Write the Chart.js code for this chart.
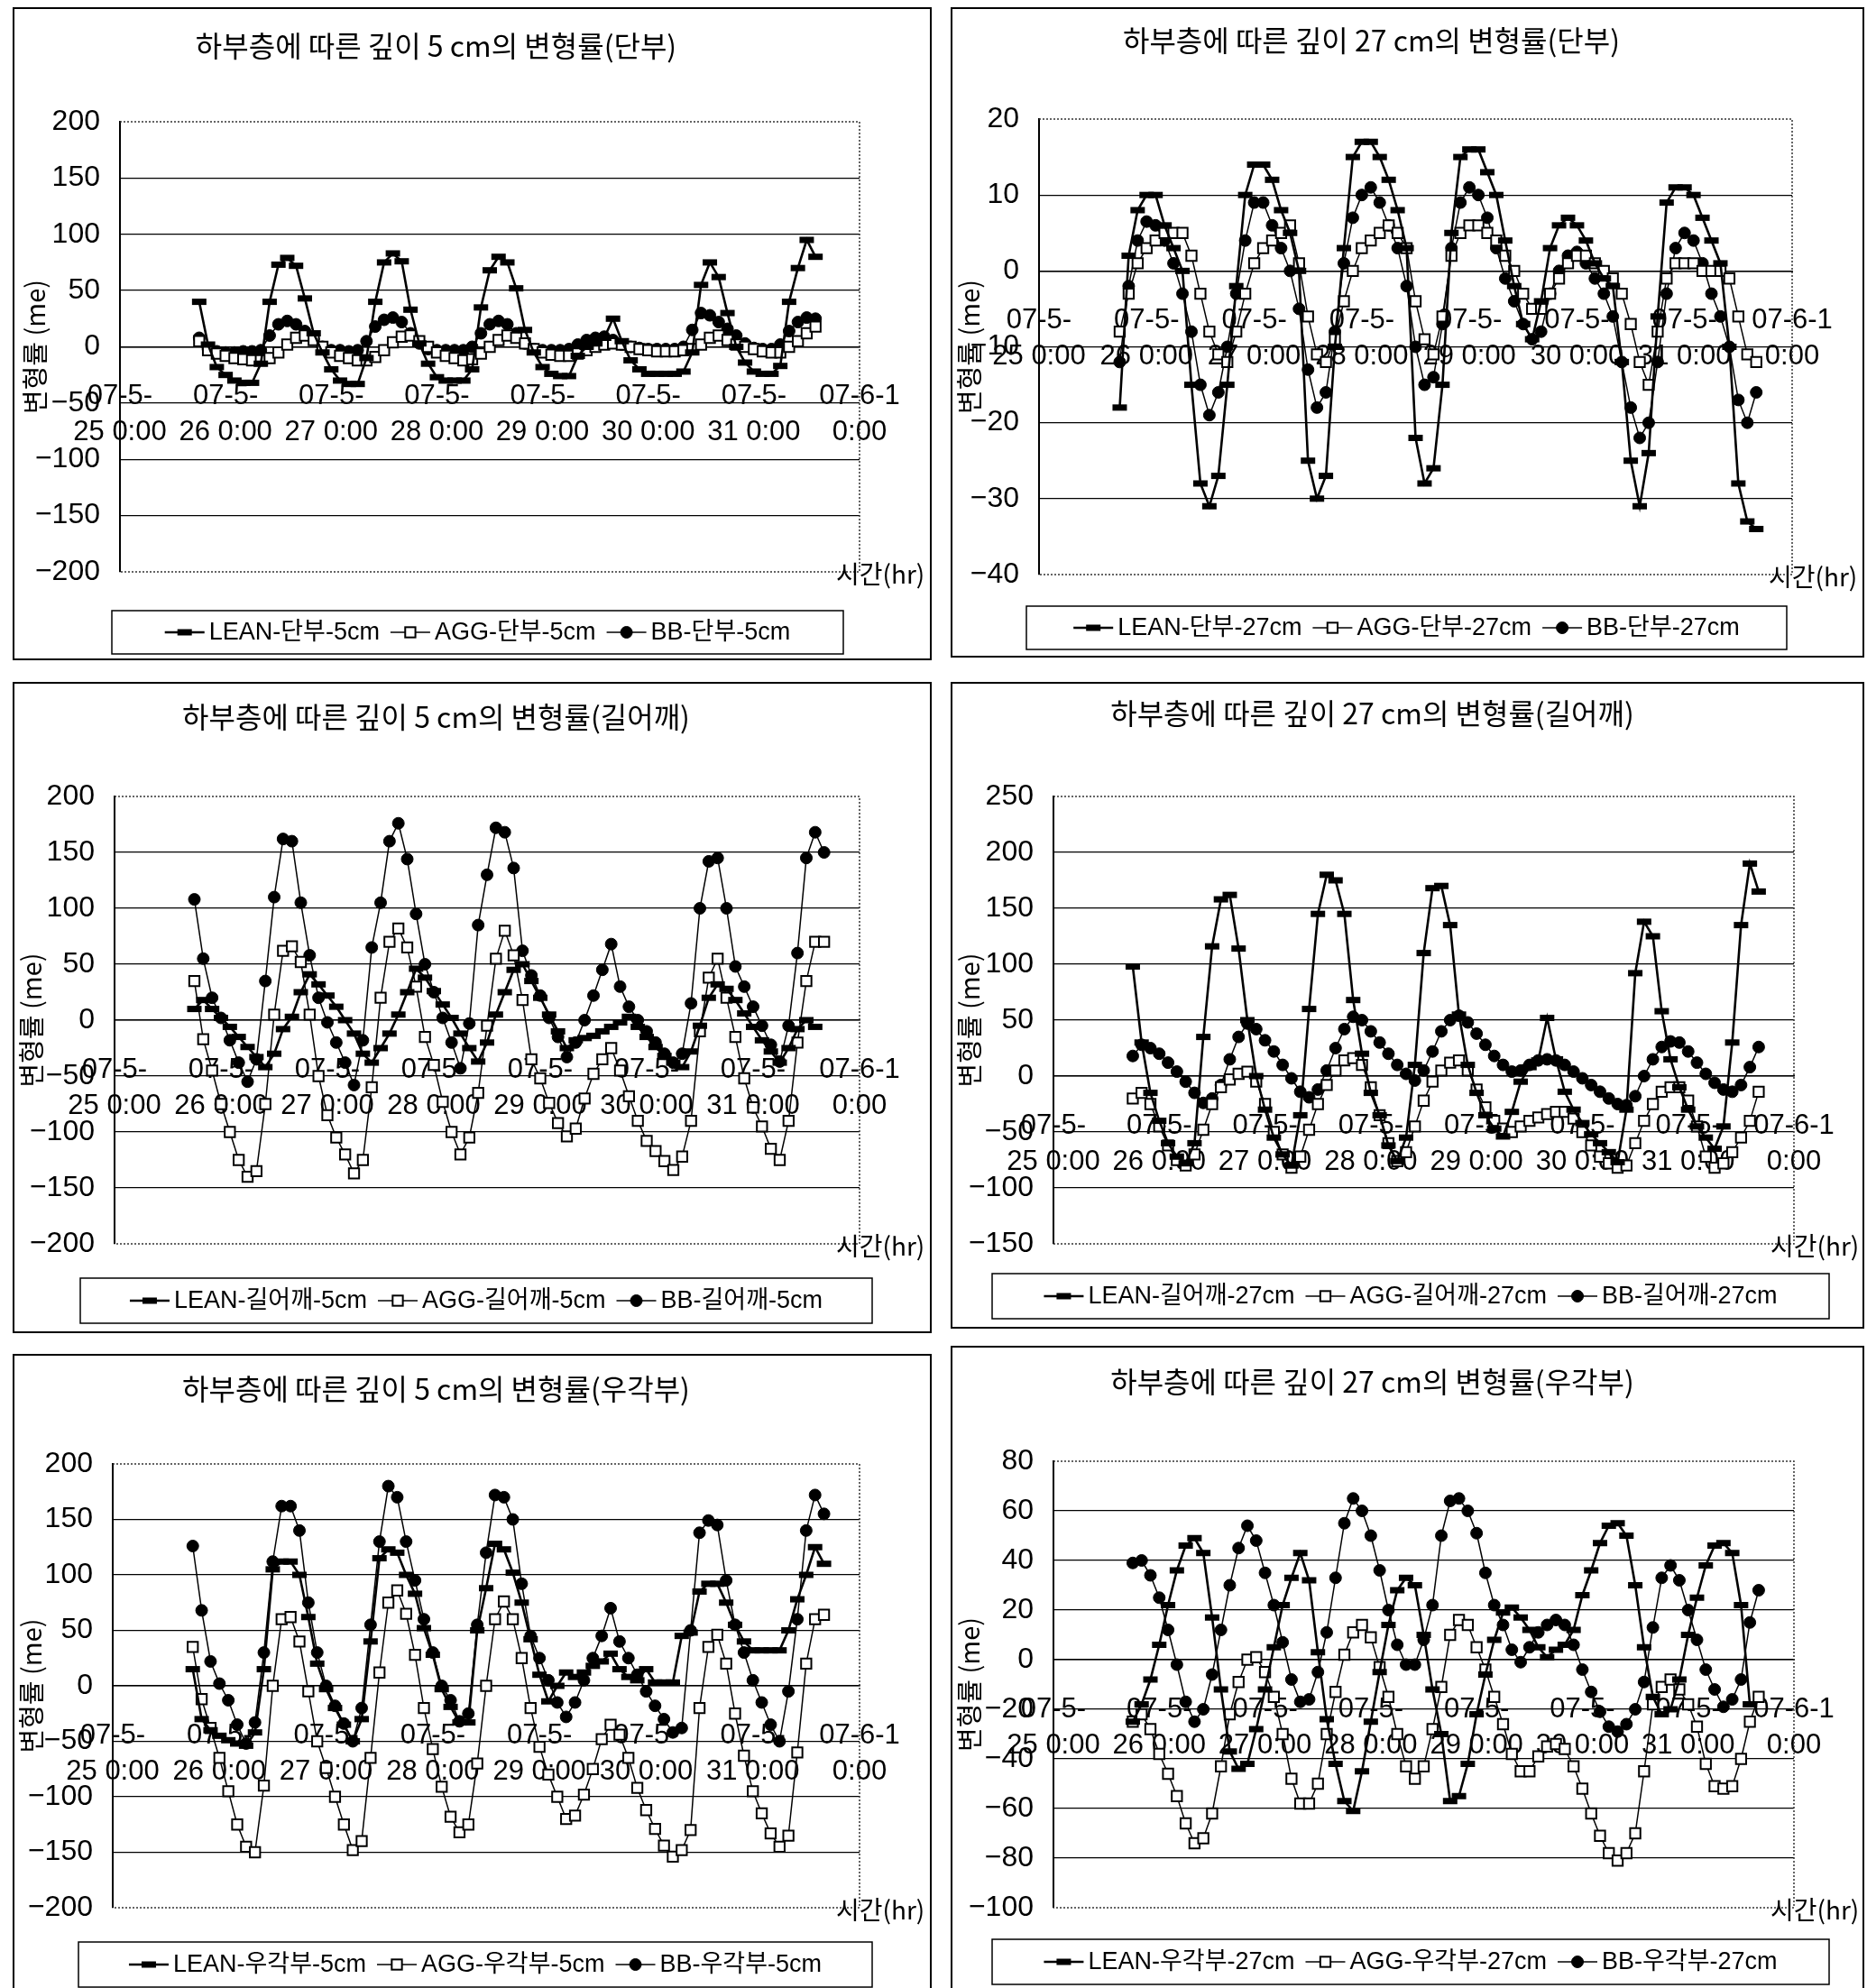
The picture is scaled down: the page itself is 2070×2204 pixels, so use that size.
<!DOCTYPE html>
<html>
<head>
<meta charset="utf-8">
<script src="https://cdn.jsdelivr.net/npm/chart.js@4.4.0/dist/chart.umd.min.js"></script>
<style>
  html, body { margin: 0; padding: 0; background: #fff; }
  body { width: 2070px; height: 2204px; position: relative; overflow: hidden; }
  .frame { position: absolute; border: 2px solid #000; box-sizing: border-box; pointer-events: none; }
  canvas { position: absolute; }
</style>
</head>
<body>
<script>
// time axis: hours since 07-5-25 0:00, one reading every 2 hours
const HOURS = [
  18, 20, 22, 24, 26, 28, 30, 32, 34, 36, 38, 40,
  42, 44, 46, 48, 50, 52, 54, 56, 58, 60, 62, 64,
  66, 68, 70, 72, 74, 76, 78, 80, 82, 84, 86, 88,
  90, 92, 94, 96, 98, 100, 102, 104, 106, 108, 110, 112,
  114, 116, 118, 120, 122, 124, 126, 128, 130, 132, 134, 136,
  138, 140, 142, 144, 146, 148, 150, 152, 154, 156, 158, 160
];
const DAY_TICKS = [0, 24, 48, 72, 96, 120, 144, 168];
const DAY_LABELS = [
  ['07-5-', '25 0:00'], ['07-5-', '26 0:00'], ['07-5-', '27 0:00'], ['07-5-', '28 0:00'],
  ['07-5-', '29 0:00'], ['07-5-', '30 0:00'], ['07-5-', '31 0:00'], ['07-6-1', '0:00']
];

// 깊이 5 cm, 단부
const lean5End = [
  40, 2, -18, -25, -30, -32, -32, -15, 40, 73, 79, 72,
  43, 12, -5, -20, -30, -33, -33, -10, 40, 75, 83, 76,
  33, 3, -15, -27, -30, -30, -30, -20, 35, 68, 80, 75,
  52, 15, -5, -18, -24, -26, -26, -8, 0, 3, 8, 25,
  5, -12, -20, -24, -24, -24, -24, -22, -5, 55, 75, 62,
  30, 0, -14, -22, -24, -24, -17, 40, 70, 95, 80, null
];
const agg5End = [
  5, -3, -6, -8, -10, -11, -12, -12, -10, -5, 2, 8,
  10, 6, 0, -5, -8, -10, -12, -12, -9, -3, 4, 9,
  10, 5, 0, -5, -8, -10, -12, -11, -6, 0, 6, 10,
  8, 3, -2, -5, -7, -8, -8, -6, -3, 0, 2, 3,
  2, 0, -2, -3, -4, -4, -4, -3, -2, 2, 8, 10,
  6, 2, 0, -2, -4, -5, -5, 0, 5, 12, 18, null
];
const bb5End = [
  8, -2, -4, -5, -5, -4, -4, -3, 10, 20, 23, 20,
  14, 7, 0, -3, -3, -4, -3, 5, 18, 24, 26, 22,
  12, 3, -2, -3, -3, -3, -3, 0, 12, 20, 23, 20,
  12, 3, -2, -3, -3, -3, -2, 2, 6, 8, 9, 6,
  2, 0, -1, -2, -2, -2, -2, 0, 15, 30, 28, 22,
  16, 10, 3, -1, -2, -2, 2, 14, 22, 26, 25, null
];

// 깊이 27 cm, 단부
const lean27End = [
  -18, 2, 8, 10, 10, 6, 3, 0, -15, -28, -31, -27,
  -15, -2, 10, 14, 14, 12, 8, 5, 0, -25, -30, -27,
  -10, 3, 15, 17, 17, 15, 12, 8, 3, -22, -28, -26,
  -15, 5, 15, 16, 16, 13, 10, 4, -2, -7, -9, -4,
  3, 6, 7, 6, 4, 1, -1, -2, -12, -25, -31, -24,
  -6, 9, 11, 11, 10, 7, 4, 1, -10, -28, -33, -34
];
const agg27End = [
  -8, -3, 1, 3, 4, 5, 5, 5, 2, -3, -8, -11,
  -12, -8, -3, 1, 3, 4, 5, 6, 1, -6, -11, -12,
  -9, -4, 0, 3, 4, 5, 6, 5, 3, -4, -9, -11,
  -6, 2, 5, 6, 6, 5, 4, 2, 0, -3, -5, -5,
  -3, -1, 1, 2, 2, 1, 0, -1, -3, -7, -12, -15,
  -8, -1, 1, 1, 1, 0, 0, 0, -1, -6, -11, -12
];
const bb27End = [
  -12, -2, 4, 6.5, 6, 4, 1, -3, -8, -15, -19, -16,
  -10, -3, 4, 9, 9, 6, 3, 0, -5, -13, -18, -16,
  -8, 1, 7, 10, 11, 9, 6, 3, -2, -10, -15, -14,
  -7, 3, 9, 11, 10, 7, 3, -1, -4, -7, -9, -8,
  -3, 0, 2, 2.5, 1, -1, -3, -6, -12, -18, -22, -20,
  -12, -3, 3, 5, 4, 1, -3, -6, -10, -17, -20, -16
];

// 깊이 5 cm, 길어깨
const lean5Shoulder = [
  10, 18, 10, 2, -6, -15, -24, -33, -42, -30, -8, 3,
  25, 41, 32, 22, 12, 0, -12, -30, -38, -25, -12, 5,
  25, 46, 38, 26, 14, 2, -12, -25, -37, -20, 5, 25,
  45, 50, 35, 20, 5, -10, -25, -18, -16, -14, -10, -6,
  -2, 3, -6, -15, -24, -32, -38, -42, -28, -5, 20, 32,
  28, 18, 6, -6, -18, -28, -38, -25, -8, 0, -6, null
];
const agg5Shoulder = [
  35, -17, -45, -75, -100, -125, -140, -135, -75, 5, 62, 66,
  52, 5, -50, -85, -105, -120, -137, -125, -60, 20, 70, 82,
  65, 30, -15, -40, -73, -100, -120, -105, -65, -5, 55, 80,
  58, 18, -35, -52, -74, -92, -104, -97, -70, -48, -35, -25,
  -45, -68, -90, -108, -117, -126, -134, -122, -90, -10, 38, 55,
  20, -15, -52, -78, -95, -115, -125, -90, -20, 35, 70, 70
];
const bb5Shoulder = [
  108, 55, 20, 2, -18, -38, -55, -35, 35, 110, 162, 160,
  105, 58, 20, -2, -20, -38, -58, -18, 65, 105, 160, 176,
  144, 95, 50, 25, 2, -20, -43, -3, 85, 130, 172, 168,
  136, 62, 40, 22, 2, -15, -33, -20, 0, 22, 45, 68,
  30, 12, 0, -10, -20, -30, -38, -30, 15, 100, 142, 145,
  100, 48, 30, 12, -5, -22, -37, -5, 60, 145, 168, 150
];

// 깊이 27 cm, 길어깨
const lean27Shoulder = [
  98, 30, -15, -40, -60, -72, -78, -60, 35, 116, 158, 162,
  114, 50, 0, -30, -55, -70, -80, -35, 60, 145, 180, 175,
  145, 68, 20, -15, -35, -62, -76, -55, 10, 110, 168, 170,
  135, 55, 10, -15, -35, -47, -54, -32, -5, 8, 14, 52,
  15, -14, -30, -42, -52, -60, -68, -77, -30, 92, 138, 125,
  58, 15, -10, -30, -45, -55, -65, -45, 30, 135, 190, 165
];
const agg27Shoulder = [
  -20, -15, -25, -45, -62, -75, -80, -70, -48, -25, -10, -3,
  2, 4, -5, -25, -50, -70, -82, -72, -48, -25, -8, 5,
  14, 16, 10, -10, -35, -60, -76, -68, -45, -22, -5, 5,
  12, 14, 5, -12, -28, -40, -47, -50, -45, -40, -37, -34,
  -32, -32, -38, -50, -62, -72, -78, -82, -80, -60, -40, -25,
  -14, -10, -10, -22, -45, -72, -82, -78, -68, -55, -40, -14
];
const bb27Shoulder = [
  18, 28, 25, 20, 12, 4, -5, -15, -24, -20, -8, 15,
  35, 47, 42, 32, 22, 10, -2, -14, -19, -12, 5, 25,
  42, 53, 50, 40, 30, 20, 10, 2, -4, 5, 22, 40,
  50, 54, 48, 38, 28, 18, 10, 4, 5, 10, 14, 15,
  14, 10, 4, -2, -8, -14, -20, -25, -26, -18, 0, 15,
  26, 31, 30, 22, 12, 2, -6, -12, -14, -8, 8, 26
];

// 깊이 5 cm, 우각부
const lean5Corner = [
  15, -30, -40, -45, -49, -52, -54, -42, 15, 105, 112, 112,
  100, 62, 20, -3, -20, -35, -50, -30, 40, 115, 123, 120,
  100, 83, 52, 28, -3, -19, -33, -33, 50, 88, 128, 123,
  102, 75, 42, 10, -14, 0, 12, 8, 12, 18, 22, 29,
  15, 8, 5, 15, 3, 3, 3, 45, 48, 85, 92, 92,
  75, 55, 40, 32, 32, 32, 32, 50, 78, 100, 125, 110
];
const agg5Corner = [
  35, -12, -38, -65, -95, -125, -145, -150, -90, 0, 60, 62,
  40, -5, -50, -74, -100, -125, -148, -140, -65, 12, 75, 86,
  65, 28, -20, -57, -91, -118, -132, -125, -70, 0, 60, 76,
  60, 25, -20, -55, -80, -100, -120, -117, -98, -75, -48, -35,
  -44, -65, -92, -112, -129, -144, -154, -148, -130, -20, 35, 46,
  20, -25, -63, -95, -115, -133, -145, -135, -60, 20, 60, 64
];
const bb5Corner = [
  126, 68, 22, 2, -13, -35, -52, -33, 30, 112, 162, 162,
  140, 75, 30, 0, -18, -34, -50, -20, 55, 130, 180, 170,
  130, 95, 60, 30, 0, -13, -32, -25, 55, 120, 172, 170,
  150, 92, 45, 25, 5, -15, -28, -15, 5, 25, 45, 70,
  40, 25, 10, -5, -18, -30, -42, -38, 50, 138, 149, 145,
  95, 55, 30, 5, -15, -35, -50, -5, 60, 140, 172, 155
];

// 깊이 27 cm, 우각부
const lean27Corner = [
  -25, -18, -8, 6, 22, 36, 46, 49, 43, 17, -12, -37,
  -44, -42, -28, -12, 5, 22, 33, 43, 32, 3, -24, -42,
  -57, -61, -45, -25, -5, 14, 28, 33, 30, 10, -12, -30,
  -57, -55, -42, -22, -6, 8, 19, 21, 17, 12, 5, 1,
  4, 6, 12, 26, 36, 47, 54, 55, 50, 30, 5, -15,
  -22, -20, -8, 10, 25, 38, 46, 47, 43, 22, -18, null
];
const agg27Corner = [
  -25, -22, -28, -38, -46, -55, -66, -74, -72, -62, -43, -22,
  -9, 0, 1, -5, -15, -30, -48, -58, -58, -50, -30, -13,
  2, 11, 14, 9, -3, -15, -30, -43, -48, -43, -28, -11,
  10, 16, 14, 5, -4, -15, -26, -38, -45, -45, -39, -35,
  -34, -36, -43, -52, -62, -71, -78, -81, -78, -70, -45, -18,
  -11, -8, -12, -18, -27, -42, -51, -52, -51, -40, -25, -15
];
const bb27Corner = [
  39, 40, 34, 25, 12, -2, -17, -25, -20, -6, 12, 30,
  45, 54, 48, 35, 22, 7, -8, -17, -16, -5, 11, 33,
  55, 65, 60, 50, 36, 20, 6, -2, -2, 8, 22, 50,
  64, 65, 60, 51, 35, 22, 14, 4, -1, 5, 11, 14,
  16, 14, 6, -4, -13, -21, -27, -29, -26, -20, -9, 13,
  33, 38, 32, 20, 8, -4, -12, -19, -16, -8, 15, 28
];

const SANS = '"Liberation Sans", Arial, "Noto Sans CJK KR", sans-serif';
const KR = '"Noto Sans CJK KR", "Noto Sans", sans-serif';
const TITLE_SIZE = 32;
const YTITLE_SIZE = 29;

const SERIES_STYLE = {
  LEAN: { borderWidth: 2.6, pointStyle: 'line', pointRadius: 8, pointBorderWidth: 7, pointBackgroundColor: '#000' },
  AGG: { borderWidth: 1.5, pointStyle: 'rect', pointRadius: 8, pointBorderWidth: 2, pointBackgroundColor: '#fff' },
  BB: { borderWidth: 1.5, pointStyle: 'circle', pointRadius: 6.5, pointBorderWidth: 1, pointBackgroundColor: '#000' }
};

// panel boxes and plot areas in page pixels
const PANELS = [
  {
    title: '하부층에 따른 깊이 5 cm의 변형률(단부)', part: '단부', depth: '5cm',
    series: [lean5End, agg5End, bb5End], yMin: -200, yMax: 200, yStep: 50,
    box: { x: 14, y: 8, w: 1019, h: 724 }, plot: { l: 133, t: 135, r: 953, b: 634 },
    titleY: 51, yTitleX: 39, legend: { x: 124, y: 677, w: 811, h: 48 }
  },
  {
    title: '하부층에 따른 깊이 27 cm의 변형률(단부)', part: '단부', depth: '27cm',
    series: [lean27End, agg27End, bb27End], yMin: -40, yMax: 20, yStep: 10,
    box: { x: 1054, y: 8, w: 1013, h: 721 }, plot: { l: 1152, t: 132, r: 1987, b: 637 },
    titleY: 45, yTitleX: 1075, legend: { x: 1138, y: 672, w: 843, h: 48 }
  },
  {
    title: '하부층에 따른 깊이 5 cm의 변형률(길어깨)', part: '길어깨', depth: '5cm',
    series: [lean5Shoulder, agg5Shoulder, bb5Shoulder], yMin: -200, yMax: 200, yStep: 50,
    box: { x: 14, y: 756, w: 1019, h: 722 }, plot: { l: 127, t: 883, r: 953, b: 1379 },
    titleY: 795, yTitleX: 35, legend: { x: 89, y: 1417, w: 878, h: 50 }
  },
  {
    title: '하부층에 따른 깊이 27 cm의 변형률(길어깨)', part: '길어깨', depth: '27cm',
    series: [lean27Shoulder, agg27Shoulder, bb27Shoulder], yMin: -150, yMax: 250, yStep: 50,
    box: { x: 1054, y: 756, w: 1013, h: 717 }, plot: { l: 1168, t: 883, r: 1989, b: 1379 },
    titleY: 791, yTitleX: 1075, legend: { x: 1100, y: 1412, w: 928, h: 50 }
  },
  {
    title: '하부층에 따른 깊이 5 cm의 변형률(우각부)', part: '우각부', depth: '5cm',
    series: [lean5Corner, agg5Corner, bb5Corner], yMin: -200, yMax: 200, yStep: 50,
    box: { x: 14, y: 1501, w: 1019, h: 713 }, plot: { l: 125, t: 1623, r: 953, b: 2115 },
    titleY: 1540, yTitleX: 35, legend: { x: 87, y: 2153, w: 880, h: 50 }
  },
  {
    title: '하부층에 따른 깊이 27 cm의 변형률(우각부)', part: '우각부', depth: '27cm',
    series: [lean27Corner, agg27Corner, bb27Corner], yMin: -100, yMax: 80, yStep: 20,
    box: { x: 1054, y: 1492, w: 1013, h: 722 }, plot: { l: 1168, t: 1620, r: 1989, b: 2115 },
    titleY: 1532, yTitleX: 1075, legend: { x: 1100, y: 2150, w: 928, h: 50 }
  }
];

function drawMarker(ctx, style, x, y) {
  ctx.save();
  ctx.strokeStyle = '#000';
  ctx.fillStyle = style.pointBackgroundColor;
  ctx.lineWidth = style.pointBorderWidth;
  const r = style.pointRadius;
  if (style.pointStyle === 'line') {
    ctx.beginPath();
    ctx.moveTo(x - r, y);
    ctx.lineTo(x + r, y);
    ctx.stroke();
  } else if (style.pointStyle === 'rect') {
    const s = r * Math.SQRT1_2;
    ctx.fillRect(x - s, y - s, 2 * s, 2 * s);
    ctx.strokeRect(x - s, y - s, 2 * s, 2 * s);
  } else {
    ctx.beginPath();
    ctx.arc(x, y, r, 0, Math.PI * 2);
    ctx.fill();
    ctx.stroke();
  }
  ctx.restore();
}

const panelDecor = {
  id: 'panelDecor',
  beforeDatasetsDraw(chart) {
    const { ctx, chartArea: a } = chart;
    ctx.save();
    ctx.strokeStyle = '#333';
    ctx.lineWidth = 1.5;
    ctx.setLineDash([2, 2]);
    ctx.beginPath();
    ctx.moveTo(a.left, a.top);
    ctx.lineTo(a.right, a.top);
    ctx.lineTo(a.right, a.bottom);
    ctx.lineTo(a.left, a.bottom);
    ctx.stroke();
    ctx.restore();
  },
  afterDraw(chart, args, opts) {
    const { ctx, chartArea: a } = chart;
    const p = opts.panel;
    ctx.save();
    // 시간(hr) at the lower right corner of the plot
    ctx.font = `28px ${KR}`;
    ctx.fillStyle = '#000';
    ctx.textBaseline = 'middle';
    ctx.textAlign = 'left';
    ctx.fillText('시간(hr)', a.right - 26, a.bottom + 2);

    // legend box
    const lx = p.legend.x - p.box.x;
    const ly = p.legend.y - p.box.y;
    ctx.lineWidth = 1.5;
    ctx.strokeStyle = '#000';
    ctx.strokeRect(lx, ly, p.legend.w, p.legend.h);
    ctx.font = `27px ${SANS}`;
    const names = ['LEAN', 'AGG', 'BB'];
    const labels = names.map(n => `${n}-${p.part}-${p.depth}`);
    const sampleW = 44, textGap = 5, itemGap = 12;
    const widths = labels.map(t => ctx.measureText(t).width);
    const total = widths.reduce((s, w) => s + sampleW + textGap + w, 0) + itemGap * 2;
    let x = lx + (p.legend.w - total) / 2;
    const cy = ly + p.legend.h / 2;
    names.forEach((n, i) => {
      const st = SERIES_STYLE[n];
      ctx.lineWidth = st.borderWidth;
      ctx.beginPath();
      ctx.moveTo(x, cy);
      ctx.lineTo(x + sampleW, cy);
      ctx.stroke();
      drawMarker(ctx, st, x + sampleW / 2, cy);
      ctx.fillStyle = '#000';
      ctx.fillText(labels[i], x + sampleW + textGap, cy + 1);
      x += sampleW + textGap + widths[i] + itemGap;
    });
    ctx.restore();
  }
};

function buildPanel(p) {
  const frame = document.createElement('div');
  frame.className = 'frame';
  Object.assign(frame.style, {
    left: p.box.x + 'px', top: p.box.y + 'px', width: p.box.w + 'px', height: p.box.h + 'px'
  });
  const canvas = document.createElement('canvas');
  canvas.width = p.box.w;
  canvas.height = p.box.h;
  Object.assign(canvas.style, {
    left: p.box.x + 'px', top: p.box.y + 'px', width: p.box.w + 'px', height: p.box.h + 'px'
  });
  document.body.appendChild(canvas);
  document.body.appendChild(frame);

  const titleLH = TITLE_SIZE * 1.2;
  const titlePadTop = p.titleY - p.box.y - titleLH / 2;
  const titlePadBottom = p.plot.t - p.titleY - titleLH / 2;
  const yAxisW = p.plot.l - p.box.x;
  const yTitlePad = p.yTitleX - p.box.x - (YTITLE_SIZE * 1.2) / 2;

  const names = ['LEAN', 'AGG', 'BB'];
  const datasets = p.series.map((values, i) => {
    const st = SERIES_STYLE[names[i]];
    return {
      label: `${names[i]}-${p.part}-${p.depth}`,
      data: HOURS.map((h, k) => ({ x: h, y: values[k] })),
      borderColor: '#000',
      borderWidth: st.borderWidth,
      pointStyle: st.pointStyle,
      pointRadius: st.pointRadius,
      pointBorderWidth: st.pointBorderWidth,
      pointBorderColor: '#000',
      pointBackgroundColor: st.pointBackgroundColor,
      tension: 0,
      spanGaps: false
    };
  });

  new Chart(canvas, {
    type: 'line',
    data: { datasets },
    options: {
      responsive: false,
      animation: false,
      devicePixelRatio: 1,
      events: [],
      layout: {
        autoPadding: false,
        padding: {
          left: 0, top: 0,
          right: p.box.x + p.box.w - p.plot.r,
          bottom: p.box.y + p.box.h - p.plot.b
        }
      },
      plugins: {
        legend: { display: false },
        tooltip: { enabled: false },
        title: {
          display: true,
          text: p.title,
          color: '#000',
          font: { family: KR, size: TITLE_SIZE, weight: 'normal', lineHeight: 1.2 },
          padding: { top: titlePadTop, bottom: titlePadBottom }
        },
        panelDecor: { panel: p }
      },
      scales: {
        x: {
          type: 'linear',
          min: 0,
          max: 168,
          position: { y: 0 },
          afterFit: s => { s.height = 0; },
          afterBuildTicks: s => { s.ticks = DAY_TICKS.map(v => ({ value: v })); },
          grid: { display: false },
          border: { display: true, color: '#000', width: 1.5 },
          ticks: {
            autoSkip: false,
            maxRotation: 0,
            minRotation: 0,
            padding: 27,
            color: '#000',
            font: { family: SANS, size: 31, lineHeight: 1.3 },
            callback: v => DAY_LABELS[DAY_TICKS.indexOf(v)]
          }
        },
        y: {
          type: 'linear',
          min: p.yMin,
          max: p.yMax,
          afterFit: s => { s.width = yAxisW; },
          grid: {
            drawTicks: false,
            lineWidth: 1.3,
            color: c => (c.tick && (c.tick.value === p.yMin || c.tick.value === p.yMax)) ? 'rgba(0,0,0,0)' : '#000'
          },
          border: { display: true, color: '#000', width: 2 },
          ticks: {
            stepSize: p.yStep,
            padding: 22,
            color: '#000',
            font: { family: SANS, size: 32 },
            callback: v => String(v).replace('-', '\u2212')
          },
          title: {
            display: true,
            text: '변형률 (me)',
            color: '#000',
            font: { family: KR, size: YTITLE_SIZE, lineHeight: 1.2 },
            padding: { top: yTitlePad, bottom: 0 }
          }
        }
      }
    },
    plugins: [panelDecor]
  });
}

PANELS.forEach(buildPanel);
</script>
</body>
</html>
